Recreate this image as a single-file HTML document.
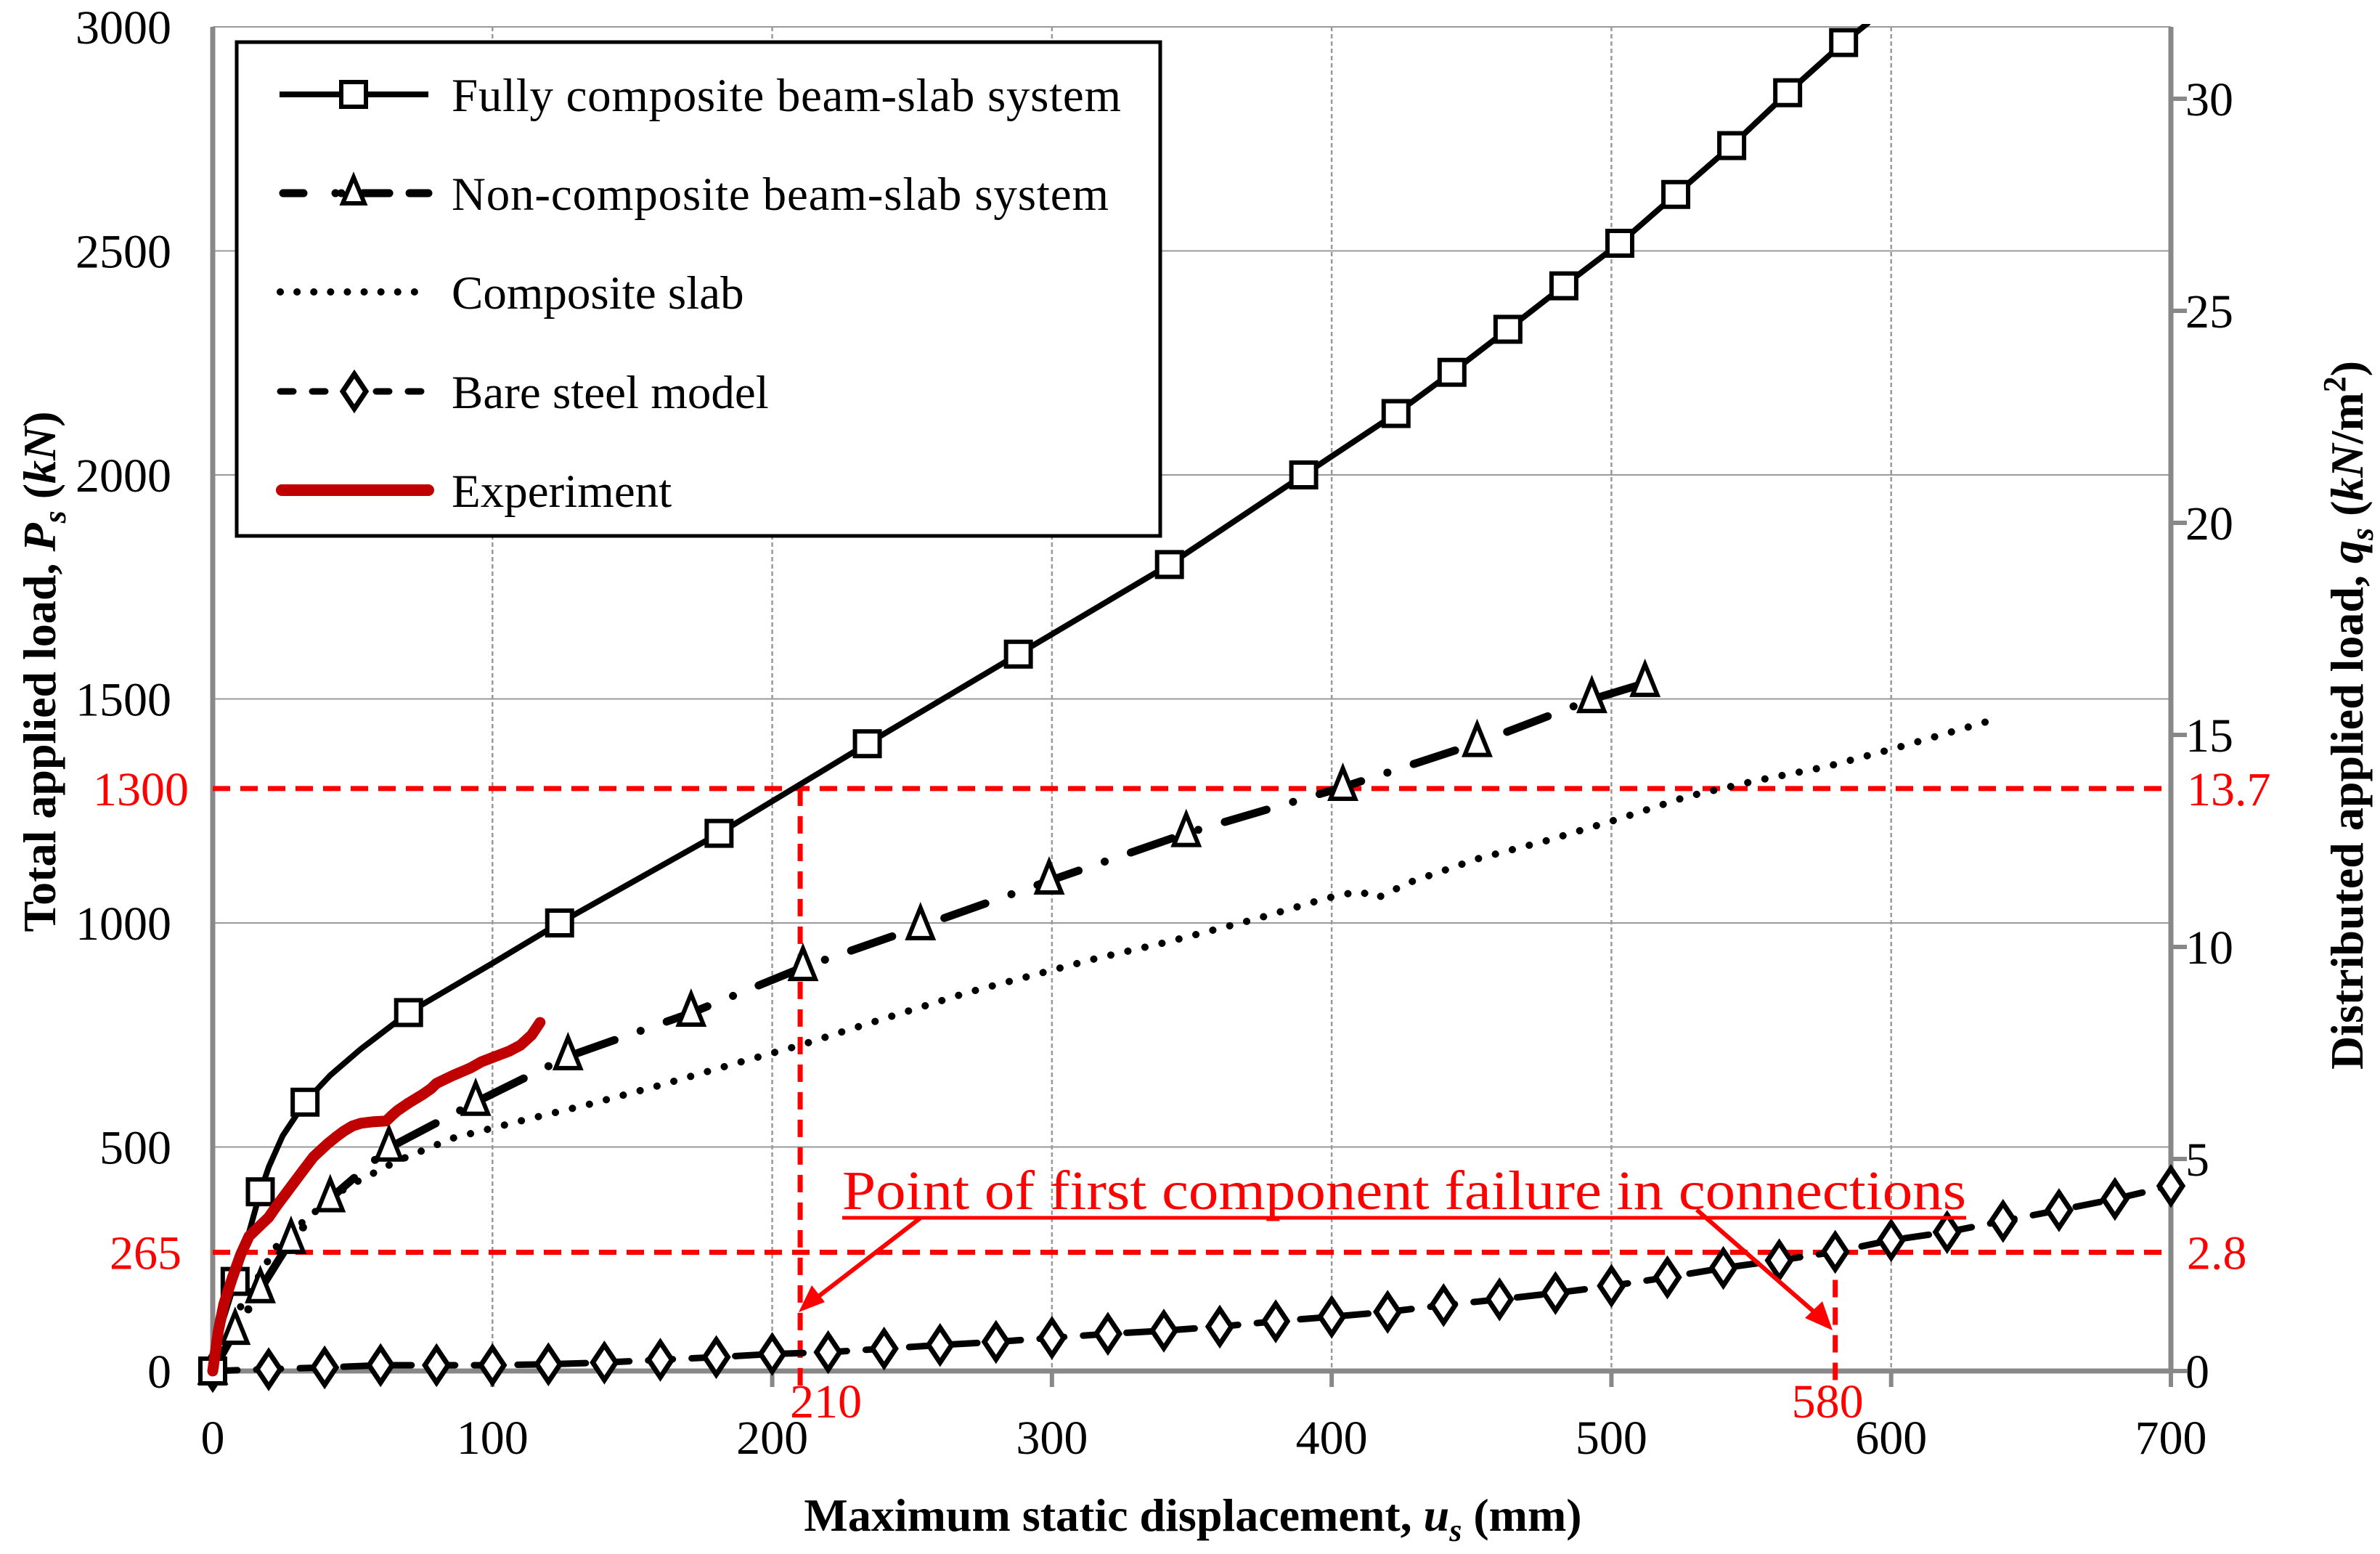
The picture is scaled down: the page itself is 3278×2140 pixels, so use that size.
<!DOCTYPE html>
<html><head><meta charset="utf-8"><style>
html,body{margin:0;padding:0;background:#fff}
svg{display:block}
text{font-family:"Liberation Serif",serif}
</style></head><body>
<svg id="chart" width="3278" height="2140" viewBox="0 0 3278 2140" xmlns="http://www.w3.org/2000/svg"></svg>
<script>
// ---- data ----
const xTicks = [0,100,200,300,400,500,600,700];
const yTicks = [0,500,1000,1500,2000,2500,3000];
const y2Ticks = [0,5,10,15,20,25,30];
const fullLineX = [0,3,8,13,17,20,25,33,42,53,70,100,124,181,234,288,342,390,423,443,463,483,503,523,543,563,583,592];
const fullLineY = [0,100,200,310,400,455,525,600,660,719,800,910,1000,1200,1400,1600,1800,2000,2137,2229,2325,2422,2517,2626,2735,2853,2965,3010];
const fullMarkX = [0,8,17,33,70,124,181,234,288,342,390,423,443,463,483,503,523,543,563,583];
const fullMarkY = [0,200,400,600,800,1000,1200,1400,1600,1800,2000,2137,2229,2325,2422,2517,2626,2735,2853,2965];
const nonX = [0,8,17,28,42,63,94,127,171,211,253,299,348,404,452,493,512];
const nonY = [0,89,182,292,385,498,600,702,799,901,992,1094,1200,1303,1401,1499,1535];
const slabX = [0,10,23,34,48,66,86,110,135,160,186,210,229,270,316,341,373,398,410,416,428,452,477,502,527,552,577,602,634];
const slabY = [0,144,280,343,411,469,520,558,596,638,685,727,765,845,921,957,1009,1055,1071,1055,1091,1143,1184,1231,1282,1318,1349,1391,1449];
const bareX = [0,20,40,60,80,100,120,140,160,180,200,220,240,260,280,300,320,340,360,380,400,420,440,460,480,500,520,540,560,580,600,620,640,660,680,700];
const bareY = [0,4,8,13,13,13,15,19,25,31,38,42,50,58,65,74,83,90,99,111,121,132,147,160,174,190,209,230,247,266,292,310,335,359,384,413];
const expX = [0,2,4,7,10,13,17,20,23,26,29,32,36,41,44,47,50,53,57,62,64,66,70,75,78,80,86,92,96,101,106,110,114,117];
const expY = [0,89,150,208,260,301,325,343,370,395,420,445,478,507,522,536,547,553,556,558,570,581,598,617,630,642,660,676,690,702,714,727,750,778];
const failLoad = 1300, failLoad2 = 265, failDisp = 210, failDisp2 = 580;

// ---- axes ----
const X0=293, X1=2990, Y0=1888, Y1=37;
const xs = v => X0 + v*(X1-X0)/700;
const ys = v => Y0 - v*(Y0-Y1)/3000;
const ys2 = v => Y0 - v*(Y0-136)/30;
const svg = document.getElementById('chart');
const NS='http://www.w3.org/2000/svg';
function mk(tag, attrs, parent){const e=document.createElementNS(NS,tag);for(const k in attrs)e.setAttribute(k,attrs[k]);(parent||svg).appendChild(e);return e;}
function pts(X,Y){return X.map((x,i)=>xs(x).toFixed(1)+','+ys(Y[i]).toFixed(1)).join(' ');}

// grid
const grid = mk('g',{});


yTicks.forEach(t=>{ if(t>0){ mk('line',{x1:X0,x2:X1,y1:ys(t),y2:ys(t),stroke:'#9a9a9a','stroke-width':2},grid);} });
xTicks.forEach(t=>{ if(t>0 && t<700){ mk('line',{x1:xs(t),x2:xs(t),y1:Y1,y2:Y0,stroke:'#9a9a9a','stroke-width':2.5,'stroke-dasharray':'6 4'},grid);} });

// axes lines
const ax = mk('g',{});


mk('line',{x1:X0,x2:X0,y1:Y1,y2:Y0+3,stroke:'#888','stroke-width':7},ax);
mk('line',{x1:X0-3,x2:X1+3,y1:Y0,y2:Y0,stroke:'#888','stroke-width':7},ax);
mk('line',{x1:X1,x2:X1,y1:Y1,y2:Y0+3,stroke:'#888','stroke-width':7},ax);
xTicks.forEach(t=>{ mk('line',{x1:xs(t),x2:xs(t),y1:Y0,y2:Y0+22,stroke:'#888','stroke-width':6},ax); });
y2Ticks.forEach(t=>{ mk('line',{x1:X1,x2:X1+22,y1:ys2(t),y2:ys2(t),stroke:'#888','stroke-width':6},ax); });

// tick labels
xTicks.forEach(t=>{ const e=mk('text',{x:xs(t),y:2002,'font-size':66,'text-anchor':'middle'}); e.textContent=t;
   });
yTicks.forEach(t=>{ const e=mk('text',{x:236,y:ys(t)+23,'font-size':66,'text-anchor':'end'}); e.textContent=t;
   });
y2Ticks.forEach(t=>{ const e=mk('text',{x:3010,y:ys2(t)+23,'font-size':66,'text-anchor':'start'}); e.textContent=t;
   });

// red reference lines
const ref = mk('g',{stroke:'#ff0000','stroke-width':7,'stroke-dasharray':'24 14',fill:'none'});


mk('line',{x1:X0,x2:X1,y1:ys(failLoad),y2:ys(failLoad)},ref);
mk('line',{x1:X0,x2:X1,y1:ys(failLoad2),y2:ys(failLoad2)},ref);
mk('line',{x1:xs(failDisp),x2:xs(failDisp),y1:ys(failLoad),y2:1910},ref);
mk('line',{x1:xs(failDisp2),x2:xs(failDisp2),y1:ys(failLoad2),y2:1910},ref);
function redText(txt,x,y,anchor,name){const e=mk('text',{x:x,y:y,'font-size':66,fill:'#ff0000','text-anchor':anchor});e.textContent=txt;
  }
redText(String(failLoad),260,ys(failLoad)+23,'end','label-1300');
redText('13.7',3012,ys(failLoad)+23,'start','label-13-7');
redText(String(failLoad2),250,ys(failLoad2)+23,'end','label-265');
redText('2.8',3012,ys(failLoad2)+23,'start','label-2-8');
redText(String(failDisp),xs(failDisp)-14,1952,'start','label-210');
redText(String(failDisp2),xs(failDisp2)-60,1952,'start','label-580');

// series
function seriesGroup(name){const g=mk('g',{});return g;}
// bare steel
const gB = seriesGroup('series-bare-steel');
mk('polyline',{points:pts(bareX,bareY),fill:'none',stroke:'#000','stroke-width':9,'stroke-dasharray':'34 26','stroke-linecap':'round'},gB);
bareX.forEach((x,i)=>{const cx=xs(x),cy=ys(bareY[i]);
 mk('polygon',{points:`${cx},${cy-24} ${cx+16},${cy} ${cx},${cy+24} ${cx-16},${cy}`,fill:'#fff',stroke:'#000','stroke-width':7},gB);});
// slab dotted
const gS = seriesGroup('series-composite-slab');
mk('polyline',{points:pts(slabX,slabY),fill:'none',stroke:'#000','stroke-width':10,'stroke-dasharray':'0.1 24','stroke-linecap':'round'},gS);
// non composite
const gN = seriesGroup('series-non-composite');
mk('polyline',{points:pts(nonX,nonY),fill:'none',stroke:'#000','stroke-width':11,'stroke-dasharray':'60 38 0.1 38','stroke-linecap':'round'},gN);
nonX.forEach((x,i)=>{const cx=xs(x),cy=ys(nonY[i]);
 mk('polygon',{points:`${cx},${cy-26} ${cx+17},${cy+16} ${cx-17},${cy+16}`,fill:'#fff',stroke:'#000','stroke-width':6},gN);});
// fully composite
const gF = seriesGroup('series-fully-composite');
mk('polyline',{points:pts(fullLineX,fullLineY),fill:'none',stroke:'#000','stroke-width':8,'stroke-linejoin':'round'},gF);
fullMarkX.forEach((x,i)=>{const cx=xs(x),cy=ys(fullMarkY[i]);
 mk('rect',{x:cx-17,y:cy-17,width:34,height:34,fill:'#fff',stroke:'#000','stroke-width':6},gF);});
// experiment
const gE = seriesGroup('series-experiment');
mk('polyline',{points:pts(expX,expY),fill:'none',stroke:'#c00000','stroke-width':15,'stroke-linecap':'round','stroke-linejoin':'round'},gE);

// clip top overshoot
mk('rect',{x:X0-10,y:0,width:X1-X0+20,height:Y1-4,fill:'#fff'});

// annotation
const ann = mk('g',{});


const at = mk('text',{x:1160,y:1665,'font-size':76,fill:'#ff0000',textLength:1548,lengthAdjust:'spacingAndGlyphs'},ann);
at.textContent='Point of first component failure in connections';
mk('line',{x1:1160,x2:2708,y1:1677,y2:1677,stroke:'#ff0000','stroke-width':5},ann);
mk('line',{x1:1268,y1:1677,x2:1112,y2:1797,stroke:'#ff0000','stroke-width':6},ann);
mk('polygon',{points:'1100,1807 1118,1770 1136,1793',fill:'#ff0000'},ann);
mk('line',{x1:2337,y1:1666,x2:2514,y2:1820,stroke:'#ff0000','stroke-width':6},ann);
mk('polygon',{points:'2524,1832 2486,1815 2510,1792',fill:'#ff0000'},ann);

// legend
const lg = mk('g',{});


mk('rect',{x:326,y:58,width:1272,height:680,fill:'#fff',stroke:'#000','stroke-width':5},lg);
const legNames=['Fully composite beam-slab system','Non-composite beam-slab system','Composite slab','Bare steel model','Experiment'];
const legY=[130,266,402,539,675];
legNames.forEach((n,i)=>{
 const y=legY[i];
 const e=mk('g',{},lg);
 
 
 if(i===0){mk('line',{x1:385,x2:590,y1:y,y2:y,stroke:'#000','stroke-width':8},e);mk('rect',{x:470,y:y-17,width:34,height:34,fill:'#fff',stroke:'#000','stroke-width':6},e);}
 if(i===1){mk('line',{x1:390,x2:590,y1:y,y2:y,stroke:'#000','stroke-width':11,'stroke-dasharray':'28 44 0.1 8 0 30 36','stroke-linecap':'round'},e);mk('polygon',{points:`${487},${y-22} ${502},${y+14} ${472},${y+14}`,fill:'#fff',stroke:'#000','stroke-width':6},e);}
 if(i===2){mk('line',{x1:386,x2:592,y1:y,y2:y,stroke:'#000','stroke-width':10,'stroke-dasharray':'0.1 23','stroke-linecap':'round'},e);}
 if(i===3){mk('line',{x1:386,x2:592,y1:y,y2:y,stroke:'#000','stroke-width':9,'stroke-dasharray':'18 26','stroke-linecap':'round'},e);const cx=488;mk('polygon',{points:`${cx},${y-24} ${cx+16},${y} ${cx},${y+24} ${cx-16},${y}`,fill:'#fff',stroke:'#000','stroke-width':7},e);}
 if(i===4){mk('line',{x1:388,x2:590,y1:y,y2:y,stroke:'#c00000','stroke-width':16,'stroke-linecap':'round'},e);}
 const t=mk('text',{x:622,y:y+23,'font-size':65},e); t.textContent=n;
 if(i===0) t.setAttribute('textLength','922');
 if(i===1) t.setAttribute('textLength','905');
});

// axis titles
const xt=mk('text',{x:1643,y:2108,'font-size':64,'font-weight':'bold','text-anchor':'middle'});
 
xt.innerHTML='Maximum static displacement, <tspan font-style="italic">u</tspan><tspan font-style="italic" font-size="44" dy="14">s</tspan><tspan dy="-14"> (mm)</tspan>';
const yt=mk('text',{x:0,y:0,'font-size':64,'font-weight':'bold','text-anchor':'middle',transform:'translate(76,925) rotate(-90)'});
 
yt.innerHTML='Total applied load, <tspan font-style="italic">P</tspan><tspan font-style="italic" font-size="44" dy="14">s</tspan><tspan dy="-14"> (</tspan><tspan font-style="italic">kN</tspan>)';
const y2t=mk('text',{x:0,y:0,'font-size':64,'font-weight':'bold','text-anchor':'middle',transform:'translate(3254,985) rotate(-90)'});
 
y2t.innerHTML='Distributed applied load, <tspan font-style="italic">q</tspan><tspan font-style="italic" font-size="44" dy="14">s</tspan><tspan dy="-14"> (</tspan><tspan font-style="italic">kN</tspan>/m<tspan font-size="44" dy="-24">2</tspan><tspan dy="24">)</tspan>';
</script>
</body></html>
